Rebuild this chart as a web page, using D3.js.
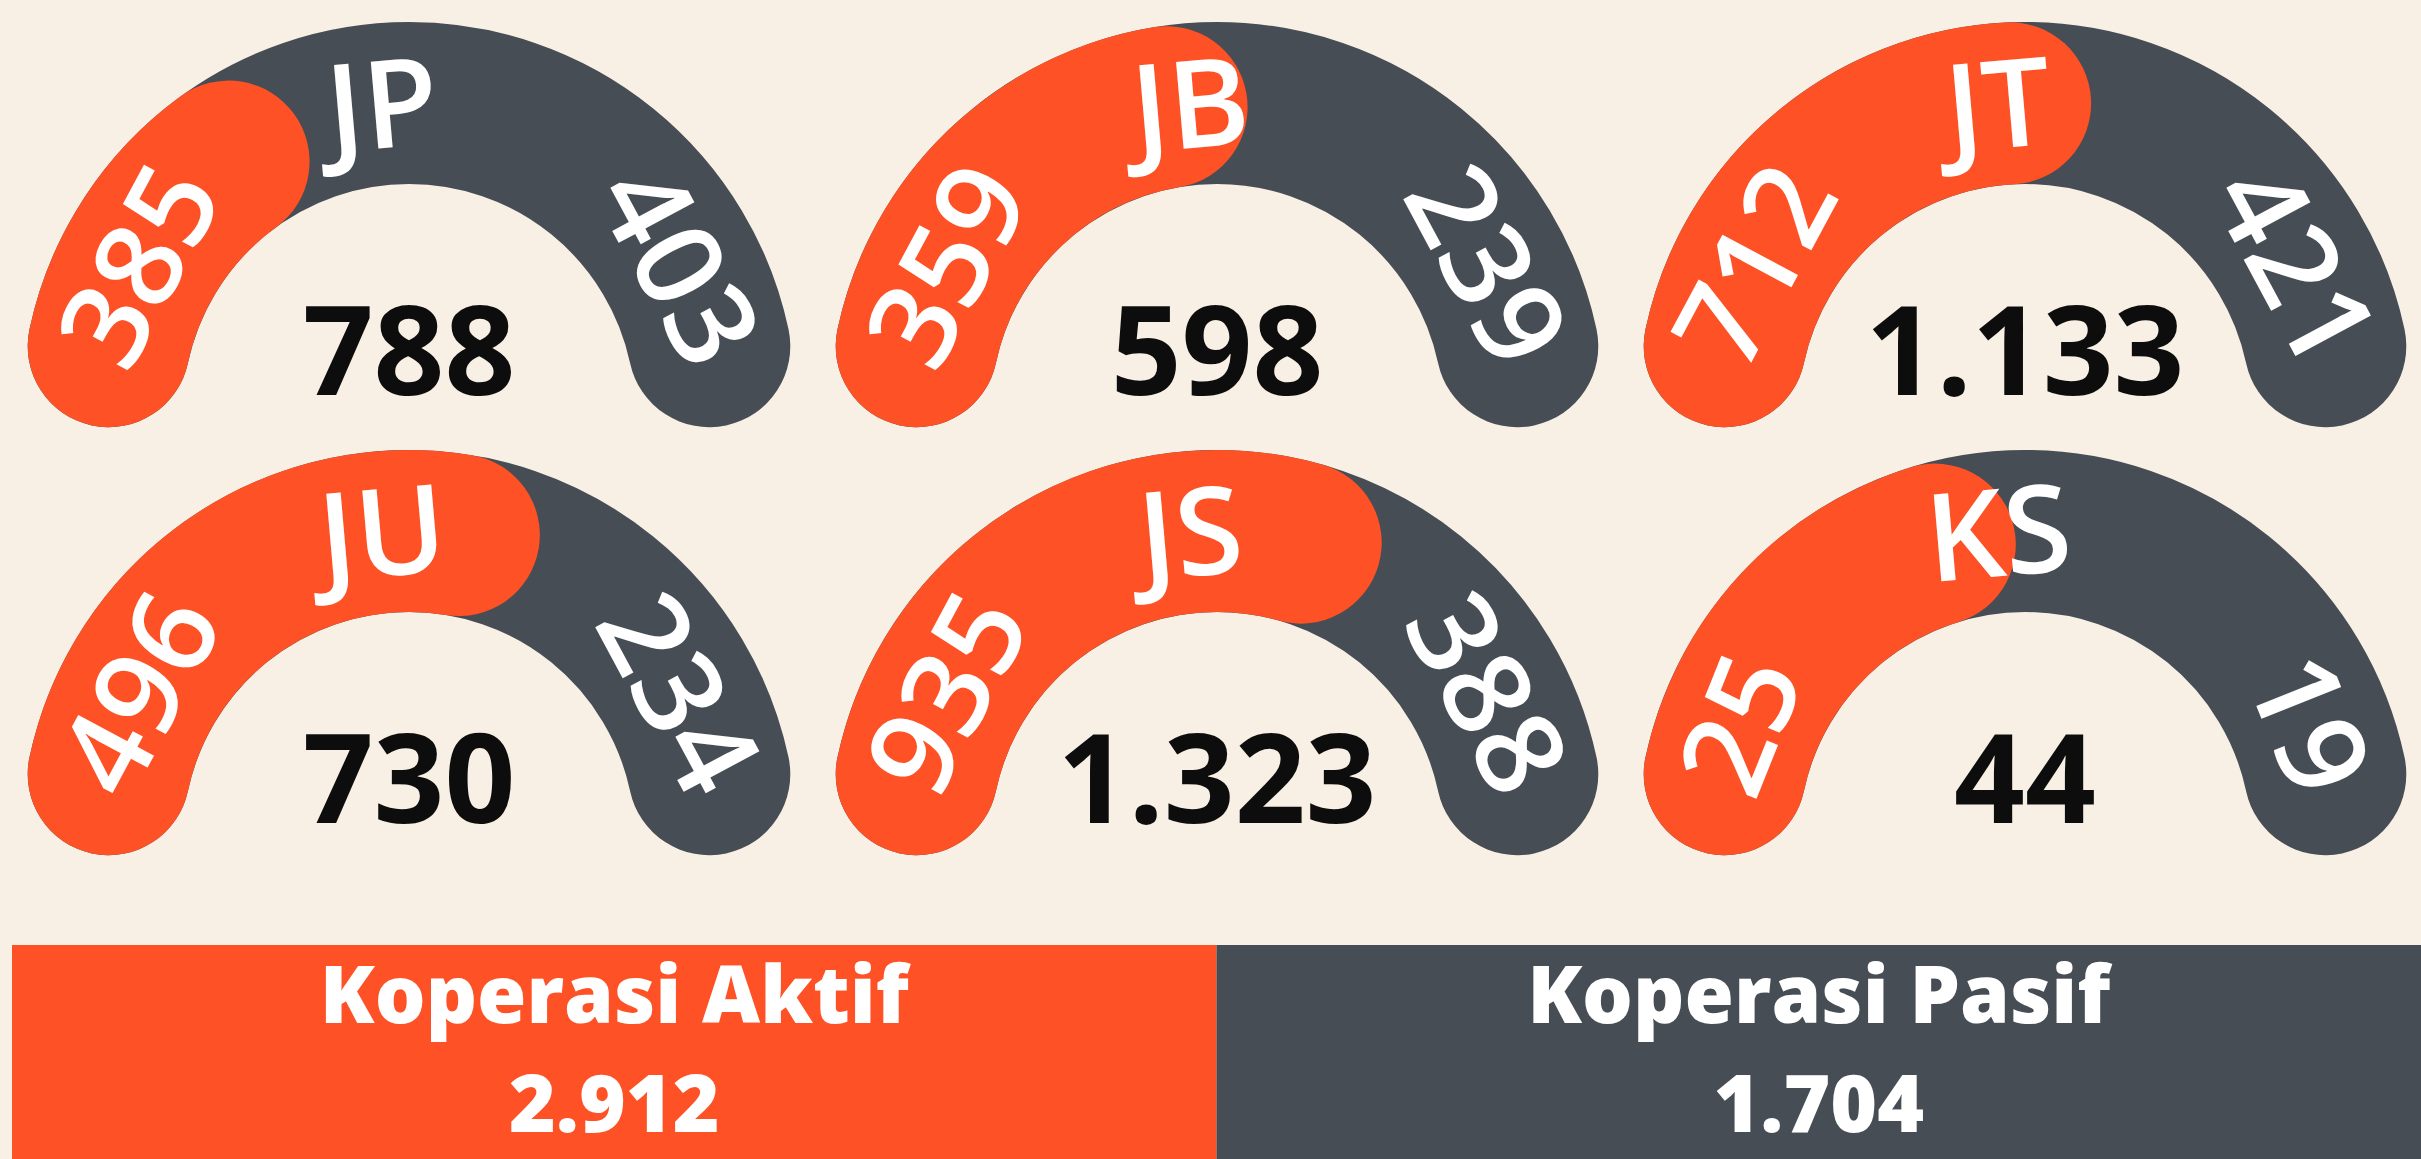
<!DOCTYPE html>
<html>
<head>
<meta charset="utf-8">
<script src="https://cdn.jsdelivr.net/npm/d3@7"></script>
<style>
  body { margin: 0; background: #f8f0e5; }
  svg { display: block; }
  text { font-family: "Open Sans", "Noto Sans", sans-serif; }
</style>
</head>
<body>
<div id="chart"></div>
<script>
// Jumlah koperasi per wilayah
const regions = ["JP", "JB", "JT", "JU", "JS", "KS"];
const aktif = [385, 359, 712, 496, 935, 25];
const pasif = [403, 239, 421, 234, 388, 19];
const totals = [788, 598, 1133, 730, 1323, 44];

// Ringkasan di bawah
const statusLabels = ["Koperasi Aktif", "Koperasi Pasif"];
const statusTotals = [2912, 1704];

const width = 2421, height = 1159;
const orange = "#fe5125", slate = "#474d55", cream = "#f8f0e5";

// angka pakai titik sebagai pemisah ribuan
const idLocale = d3.formatLocale({ decimal: ",", thousands: ".", grouping: [3], currency: ["Rp", ""] });
const fmt = idLocale.format(",d");

const svg = d3.select("#chart").append("svg")
    .attr("width", width)
    .attr("height", height);

svg.append("rect")
    .attr("width", width)
    .attr("height", height)
    .attr("fill", cream);

// grid 3 x 2
const col = d3.scaleBand().domain([0, 1, 2]).range([5, 2429]);
const row = d3.scaleBand().domain([0, 1]).range([196, 1052]);

const thick = 162, midR = 307;
const capA = Math.atan((thick / 2) / midR);   // angle eaten by a round cap
const deg = Math.PI / 180;
const endA = 78 * deg;                          // centre line of the band runs -78..78

// share of active -> where the orange tip sits (degrees), fitted to the picture
const shareAngle = d3.scaleLinear().domain([0.5, 0.7]).range([-18.5, 29]);

// centre-line arc, angles measured clockwise from 12 o'clock like d3.arc
function band(a0, a1) {
    const p = d3.path();
    p.arc(0, 0, midR, a0 - Math.PI / 2, a1 - Math.PI / 2);
    return p.toString();
}

const gaugeData = regions.map((r, i) => ({ region: r, aktif: aktif[i], pasif: pasif[i], total: totals[i], i }));

const gauges = svg.selectAll("g.gauge")
    .data(gaugeData)
    .enter()
    .append("g")
    .attr("class", "gauge")
    .attr("transform", d => `translate(${col(d.i % 3) + col.bandwidth() / 2},${row(Math.floor(d.i / 3)) + row.bandwidth() / 2})`);

// background (pasif) arc
gauges.append("path")
    .attr("d", band(-endA, endA))
    .attr("fill", "none")
    .attr("stroke", slate)
    .attr("stroke-width", thick)
    .attr("stroke-linecap", "round");

// aktif arc on top
gauges.append("path")
    .attr("d", d => band(-endA, shareAngle(d.aktif / d.total) * deg - capA))
    .attr("fill", "none")
    .attr("stroke", orange)
    .attr("stroke-width", thick)
    .attr("stroke-linecap", "round");

// region code at the top of the band
gauges.append("text")
    .attr("transform", `rotate(-5) translate(0,${-midR})`)
    .attr("text-anchor", "middle")
    .attr("dy", "0.36em")
    .attr("fill", "#fff")
    .style("font-size", "122px")
    .style("font-weight", 600)
    .text(d => d.region);

// numbers along the arc, pushed out towards the rounded ends
const edge = 81;
function sideLabel(key, sign) {
    gauges.append("text")
        .attr("text-anchor", "middle")
        .attr("dy", "0.36em")
        .attr("fill", "#fff")
        .style("font-size", "120px")
        .style("font-weight", 600)
        .text(d => fmt(d[key]))
        .attr("transform", function () {
            const half = this.getComputedTextLength() / 2 / midR / deg;
            const a = sign * (edge - half);
            return `rotate(${a}) translate(0,${-midR})`;
        });
}
sideLabel("aktif", -1);
sideLabel("pasif", 1);

// total in the middle
gauges.append("text")
    .attr("y", -15)
    .attr("text-anchor", "middle")
    .attr("fill", "#0d0d0d")
    .style("font-size", "124px")
    .style("font-weight", 700)
    .text(d => fmt(d.total));

// Bottom summary bar
const x = d3.scaleBand().domain(statusLabels).range([12, width]);
const barColor = d3.scaleOrdinal().domain(statusLabels).range([orange, slate]);

const summary = svg.selectAll("g.summary")
    .data(statusLabels.map((s, i) => ({ label: s, value: statusTotals[i] })))
    .enter()
    .append("g")
    .attr("class", "summary");

summary.append("rect")
    .attr("x", d => x(d.label))
    .attr("y", 945)
    .attr("width", x.bandwidth())
    .attr("height", height - 945)
    .attr("fill", d => barColor(d.label));

summary.append("text")
    .attr("x", d => x(d.label) + x.bandwidth() / 2)
    .attr("y", 1023)
    .attr("text-anchor", "middle")
    .attr("fill", "#fff")
    .style("font-size", "80px")
    .style("font-weight", 800)
    .text(d => d.label);

summary.append("text")
    .attr("x", d => x(d.label) + x.bandwidth() / 2)
    .attr("y", 1132)
    .attr("text-anchor", "middle")
    .attr("fill", "#fff")
    .style("font-size", "80px")
    .style("font-weight", 800)
    .text(d => fmt(d.value));
</script>
</body>
</html>
